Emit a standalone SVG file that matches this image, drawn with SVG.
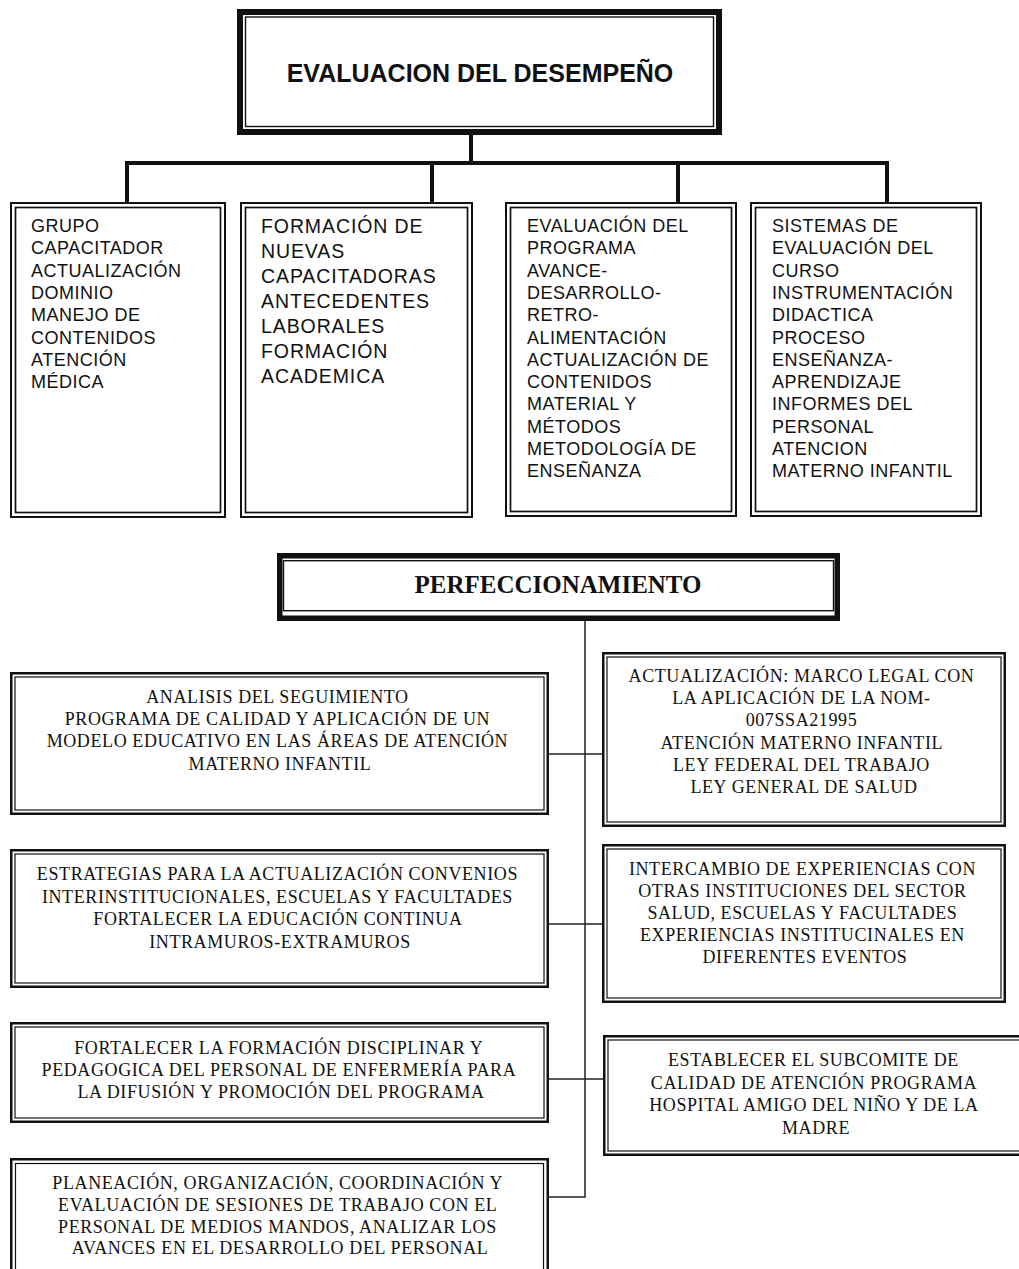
<svg xmlns="http://www.w3.org/2000/svg" width="1019" height="1269" viewBox="0 0 1019 1269">
<style>
.bg{fill:#fff}
.thick{fill:none;stroke:#111;stroke-width:6}
.thickp{fill:none;stroke:#111;stroke-width:5.5}
.thin{fill:none;stroke:#111;stroke-width:1.4}
.col{fill:none;stroke:#111;stroke-width:2}
.coli{fill:none;stroke:#111;stroke-width:1.7}
.lo{fill:none;stroke:#111;stroke-width:2.5}
.li{fill:none;stroke:#111;stroke-width:1.2}
.conn{fill:none;stroke:#111;stroke-width:4;stroke-linejoin:miter}
.conn2{fill:none;stroke:#222;stroke-width:1.5}
.t1{font-family:"Liberation Sans",Arial,sans-serif;font-weight:bold;font-size:25px;fill:#111;text-anchor:middle}
.ta{font-family:"Liberation Sans",Arial,sans-serif;font-size:18px;letter-spacing:0.5px;fill:#111}
.tb{font-family:"Liberation Sans",Arial,sans-serif;font-size:19.5px;letter-spacing:0.9px;fill:#111}
.t2{font-family:"Liberation Serif","Times New Roman",serif;font-weight:bold;font-size:25px;fill:#111;text-anchor:middle}
.ts{font-family:"Liberation Serif","Times New Roman",serif;font-size:18px;letter-spacing:0.6px;fill:#111;text-anchor:middle}
</style>
<rect class="bg" x="0" y="0" width="1019" height="1269"/>

<g id="connectors">
  <path class="conn" d="M471 135 V163"/>
  <path class="conn" d="M127 202 V163 H887 V202"/>
  <path class="conn" d="M432 163 V202"/>
  <path class="conn" d="M678 163 V202"/>
  <path class="conn2" d="M585 621 V1197 H549"/>
  <path class="conn2" d="M549 754 H602"/>
  <path class="conn2" d="M549 924 H603"/>
  <path class="conn2" d="M549 1079 H603"/>
</g>

<g id="evaluacion">
  <rect class="thick" x="240" y="12" width="479" height="120"/>
  <rect class="thin" x="245.5" y="17" width="468" height="109.5"/>
  <text class="t1" x="480" y="82">EVALUACION DEL DESEMPEÑO</text>
</g>

<g id="grupo">
  <rect class="col" x="11" y="203" width="214" height="314"/>
  <rect class="coli" x="15.5" y="207.5" width="205" height="305"/>
  <text class="ta" x="31" y="232">
    <tspan x="31">GRUPO</tspan>
    <tspan x="31" dy="22.3">CAPACITADOR</tspan>
    <tspan x="31" dy="22.3">ACTUALIZACIÓN</tspan>
    <tspan x="31" dy="22.3">DOMINIO</tspan>
    <tspan x="31" dy="22.3">MANEJO DE</tspan>
    <tspan x="31" dy="22.3">CONTENIDOS</tspan>
    <tspan x="31" dy="22.3">ATENCIÓN</tspan>
    <tspan x="31" dy="22.3">MÉDICA</tspan>
  </text>
</g>

<g id="formacion">
  <rect class="col" x="241" y="203" width="231" height="314"/>
  <rect class="coli" x="245.5" y="207.5" width="222" height="305"/>
  <text class="tb" x="261" y="233">
    <tspan x="261">FORMACIÓN DE</tspan>
    <tspan x="261" dy="25">NUEVAS</tspan>
    <tspan x="261" dy="25">CAPACITADORAS</tspan>
    <tspan x="261" dy="25">ANTECEDENTES</tspan>
    <tspan x="261" dy="25">LABORALES</tspan>
    <tspan x="261" dy="25">FORMACIÓN</tspan>
    <tspan x="261" dy="25">ACADEMICA</tspan>
  </text>
</g>

<g id="programa">
  <rect class="col" x="506" y="203" width="230" height="313"/>
  <rect class="coli" x="510.5" y="207.5" width="221" height="304"/>
  <text class="ta" x="527" y="232">
    <tspan x="527">EVALUACIÓN DEL</tspan>
    <tspan x="527" dy="22.3">PROGRAMA</tspan>
    <tspan x="527" dy="22.3">AVANCE-</tspan>
    <tspan x="527" dy="22.3">DESARROLLO-</tspan>
    <tspan x="527" dy="22.3">RETRO-</tspan>
    <tspan x="527" dy="22.3">ALIMENTACIÓN</tspan>
    <tspan x="527" dy="22.3">ACTUALIZACIÓN DE</tspan>
    <tspan x="527" dy="22.3">CONTENIDOS</tspan>
    <tspan x="527" dy="22.3">MATERIAL Y</tspan>
    <tspan x="527" dy="22.3">MÉTODOS</tspan>
    <tspan x="527" dy="22.3">METODOLOGÍA DE</tspan>
    <tspan x="527" dy="22.3">ENSEÑANZA</tspan>
  </text>
</g>

<g id="sistemas">
  <rect class="col" x="751" y="203" width="230" height="313"/>
  <rect class="coli" x="755.5" y="207.5" width="221" height="304"/>
  <text class="ta" x="772" y="232">
    <tspan x="772">SISTEMAS DE</tspan>
    <tspan x="772" dy="22.3">EVALUACIÓN DEL</tspan>
    <tspan x="772" dy="22.3">CURSO</tspan>
    <tspan x="772" dy="22.3">INSTRUMENTACIÓN</tspan>
    <tspan x="772" dy="22.3">DIDACTICA</tspan>
    <tspan x="772" dy="22.3">PROCESO</tspan>
    <tspan x="772" dy="22.3">ENSEÑANZA-</tspan>
    <tspan x="772" dy="22.3">APRENDIZAJE</tspan>
    <tspan x="772" dy="22.3">INFORMES DEL</tspan>
    <tspan x="772" dy="22.3">PERSONAL</tspan>
    <tspan x="772" dy="22.3">ATENCION</tspan>
    <tspan x="772" dy="22.3">MATERNO INFANTIL</tspan>
  </text>
</g>

<g id="perfeccionamiento">
  <rect class="thickp" x="279.75" y="555.75" width="557.5" height="62.5"/>
  <rect class="thin" x="283.5" y="560.7" width="550" height="50"/>
  <text class="t2" x="558" y="593">PERFECCIONAMIENTO</text>
</g>

<g id="analisis">
  <rect class="lo" x="11.25" y="673.25" width="536.5" height="140.5"/>
  <rect class="li" x="15" y="677" width="529" height="133"/>
  <text class="ts" x="280" y="703">
    <tspan x="280">ANALISIS DEL SEGUIMIENTO</tspan>
    <tspan x="280" dy="22.2">PROGRAMA DE CALIDAD Y APLICACIÓN DE UN</tspan>
    <tspan x="280" dy="22.2">MODELO EDUCATIVO EN LAS ÁREAS DE ATENCIÓN</tspan>
    <tspan x="280" dy="22.2">MATERNO INFANTIL</tspan>
  </text>
</g>

<g id="actualizacion">
  <rect class="lo" x="603.25" y="653.25" width="401.5" height="172.5"/>
  <rect class="li" x="607" y="657" width="394" height="165"/>
  <text class="ts" x="804" y="682">
    <tspan x="804">ACTUALIZACIÓN: MARCO LEGAL CON</tspan>
    <tspan x="804" dy="22.2">LA APLICACIÓN DE LA NOM-</tspan>
    <tspan x="804" dy="22.2">007SSA21995</tspan>
    <tspan x="804" dy="22.2">ATENCIÓN MATERNO INFANTIL</tspan>
    <tspan x="804" dy="22.2">LEY FEDERAL DEL TRABAJO</tspan>
    <tspan x="804" dy="22.2">LEY GENERAL DE SALUD</tspan>
  </text>
</g>

<g id="estrategias">
  <rect class="lo" x="11.25" y="850.25" width="536.5" height="136.5"/>
  <rect class="li" x="15" y="854" width="529" height="129"/>
  <text class="ts" x="280" y="880">
    <tspan x="280">ESTRATEGIAS PARA LA ACTUALIZACIÓN CONVENIOS</tspan>
    <tspan x="280" dy="22.5">INTERINSTITUCIONALES, ESCUELAS Y FACULTADES</tspan>
    <tspan x="280" dy="22.5">FORTALECER LA EDUCACIÓN CONTINUA</tspan>
    <tspan x="280" dy="22.5">INTRAMUROS-EXTRAMUROS</tspan>
  </text>
</g>

<g id="intercambio">
  <rect class="lo" x="603.25" y="845.25" width="401.5" height="156.5"/>
  <rect class="li" x="607" y="849" width="394" height="149"/>
  <text class="ts" x="805" y="875">
    <tspan x="805">INTERCAMBIO DE EXPERIENCIAS CON</tspan>
    <tspan x="805" dy="22">OTRAS INSTITUCIONES DEL SECTOR</tspan>
    <tspan x="805" dy="22">SALUD, ESCUELAS Y FACULTADES</tspan>
    <tspan x="805" dy="22">EXPERIENCIAS INSTITUCINALES EN</tspan>
    <tspan x="805" dy="22">DIFERENTES EVENTOS</tspan>
  </text>
</g>

<g id="fortalecer">
  <rect class="lo" x="11.25" y="1023.25" width="536.5" height="98.5"/>
  <rect class="li" x="15" y="1027" width="529" height="91"/>
  <text class="ts" x="281" y="1054">
    <tspan x="281">FORTALECER LA FORMACIÓN DISCIPLINAR Y</tspan>
    <tspan x="281" dy="22">PEDAGOGICA DEL PERSONAL DE ENFERMERÍA PARA</tspan>
    <tspan x="281" dy="22">LA DIFUSIÓN Y PROMOCIÓN DEL PROGRAMA</tspan>
  </text>
</g>

<g id="establecer">
  <rect class="lo" x="604.25" y="1036.25" width="424.5" height="118.5"/>
  <rect class="li" x="608" y="1040" width="417" height="111"/>
  <text class="ts" x="816" y="1066">
    <tspan x="816">ESTABLECER EL SUBCOMITE DE</tspan>
    <tspan x="816" dy="22.7">CALIDAD DE ATENCIÓN PROGRAMA</tspan>
    <tspan x="816" dy="22.7">HOSPITAL AMIGO DEL NIÑO Y DE LA</tspan>
    <tspan x="816" dy="22.7">MADRE</tspan>
  </text>
</g>

<g id="planeacion">
  <rect class="lo" x="11.25" y="1159.25" width="536.5" height="130"/>
  <rect class="li" x="15.5" y="1163.5" width="528" height="122"/>
  <text class="ts" x="280" y="1189">
    <tspan x="280">PLANEACIÓN, ORGANIZACIÓN, COORDINACIÓN Y</tspan>
    <tspan x="280" dy="21.8">EVALUACIÓN DE SESIONES DE TRABAJO CON EL</tspan>
    <tspan x="280" dy="21.8">PERSONAL DE MEDIOS  MANDOS, ANALIZAR LOS</tspan>
    <tspan x="280" dy="21.8">AVANCES EN EL DESARROLLO DEL PERSONAL</tspan>
  </text>
</g>
</svg>
